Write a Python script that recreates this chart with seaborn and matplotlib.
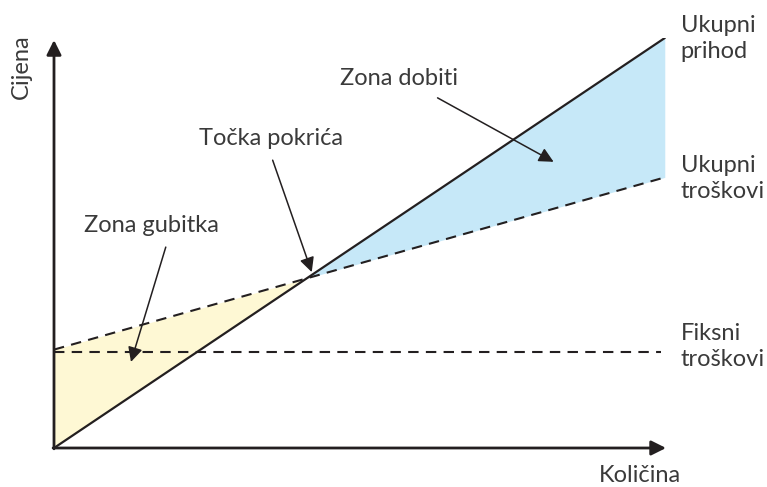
import numpy as np
import pandas as pd
import matplotlib
matplotlib.use("Agg")
import matplotlib.pyplot as plt
import seaborn as sns

# ---------------- podaci (očitano sa slike) ----------------
kolicina = [0, 100]
ukupni_prihod = [0, 100]
ukupni_troskovi = [24, 66]
fiksni_troskovi = [23.5, 23.5]
kraj_fiksnih = 99.3

TAMNA = "#231F20"
TEKST = "#3a3a3a"
PLAVA = "#C6E8F8"
ZUTA = "#FEF8D4"


def postavi_stil():
    sns.set_style("white")
    plt.rcParams["font.family"] = ["Lato", "DejaVu Sans"]


def graficki_prikaz():
    fig = plt.figure(figsize=(7.67, 4.87), dpi=100)
    ax = fig.add_axes([54 / 767, 39 / 487, 612 / 767, 410 / 487])
    ax.set_xlim(0, 100.2)
    ax.set_ylim(0, 100)
    ax.axis("off")

    df = pd.DataFrame({"kolicina": kolicina,
                       "prihod": ukupni_prihod,
                       "troskovi": ukupni_troskovi,
                       "fiksni": fiksni_troskovi})

    x = np.array(kolicina, dtype=float)
    p = np.array(ukupni_prihod, dtype=float)
    t = np.array(ukupni_troskovi, dtype=float)
    # podrucja gubitka i dobiti
    xs = np.linspace(x[0], x[1], 400)
    ps = np.interp(xs, x, p)
    ts = np.interp(xs, x, t)
    ax.fill_between(xs, ps, ts, where=ts >= ps, color=ZUTA, lw=0, interpolate=True)
    ax.fill_between(xs, ps, ts, where=ps >= ts, color=PLAVA, lw=0, interpolate=True)

    fiks = df.copy()
    fiks.loc[1, "kolicina"] = kraj_fiksnih
    sns.lineplot(data=fiks, x="kolicina", y="fiksni", ax=ax, color=TAMNA,
                 lw=1.5, linestyle=(0, (5, 3.5)))
    sns.lineplot(data=df, x="kolicina", y="troskovi", ax=ax, color=TAMNA,
                 lw=1.5, linestyle=(0, (5, 3.5)))
    sns.lineplot(data=df, x="kolicina", y="prihod", ax=ax, color=TAMNA, lw=1.6)

    # osi sa strelicama
    ax.annotate("", xy=(100.2, 0), xytext=(-0.15, 0), annotation_clip=False,
                arrowprops=dict(arrowstyle="-|>", color=TAMNA, lw=2,
                                mutation_scale=22, shrinkA=0, shrinkB=0))
    ax.annotate("", xy=(0, 99.5), xytext=(0, -0.2), annotation_clip=False,
                arrowprops=dict(arrowstyle="-|>", color=TAMNA, lw=2,
                                mutation_scale=22, shrinkA=0, shrinkB=0))

    fs = 17
    tk = dict(color=TEKST, fontsize=fs, fontweight="normal", clip_on=False)
    ax.text(-5.3, 92.9, "Cijena", rotation=90, ha="center", va="center", **tk)
    ax.text(95.9, -6.6, "Količina", ha="center", va="center", **tk)
    ax.text(102.6, 99.8, "Ukupni\nprihod", ha="left", va="center", linespacing=1.3, **tk)
    ax.text(102.6, 65.7, "Ukupni\ntroškovi", ha="left", va="center", linespacing=1.3, **tk)
    ax.text(102.6, 24.7, "Fiksni\ntroškovi", ha="left", va="center", linespacing=1.3, **tk)

    strelica = dict(arrowstyle="-|>", color=TAMNA, lw=1.1, mutation_scale=22,
                    shrinkA=0, shrinkB=0)
    ax.text(56.5, 90.2, "Zona dobiti", ha="center", va="center", **tk)
    ax.annotate("", xy=(81.8, 69.8), xytext=(62.8, 85.4), arrowprops=strelica)
    ax.text(35.5, 75.4, "Točka pokrića", ha="center", va="center", **tk)
    ax.annotate("", xy=(42.2, 42.9), xytext=(35.8, 70.2), arrowprops=strelica)
    ax.text(15.9, 54.2, "Zona gubitka", ha="center", va="center", **tk)
    ax.annotate("", xy=(12.6, 21.0), xytext=(18.3, 49.0), arrowprops=strelica)

    fig.savefig("out.png", dpi=100)


def main():
    postavi_stil()
    graficki_prikaz()


if __name__ == "__main__":
    main()
